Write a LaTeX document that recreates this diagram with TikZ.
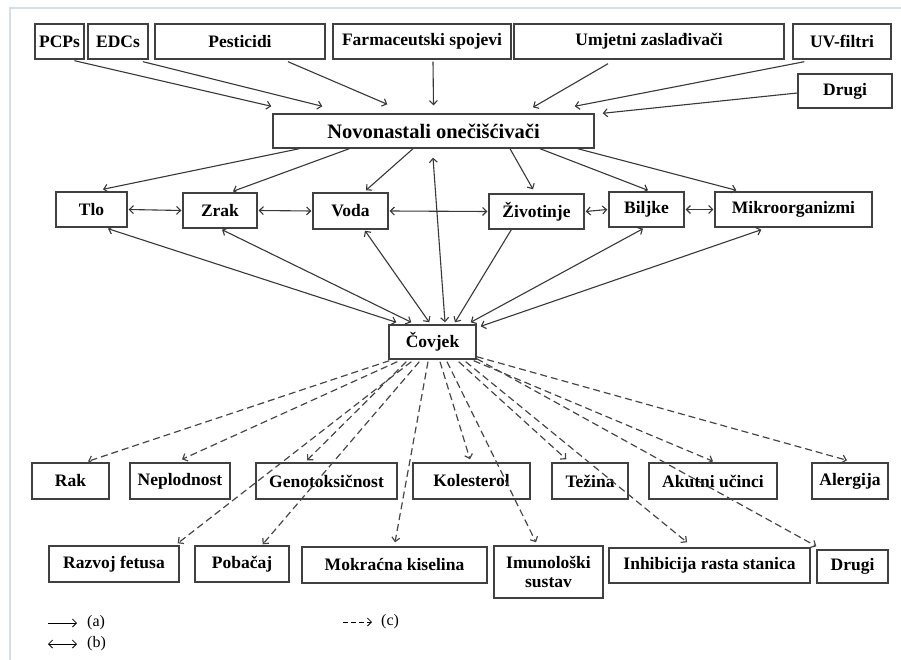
\documentclass[tikz,border=0pt]{standalone}
\usepackage{fontspec}
\setmainfont{Liberation Serif}
\usetikzlibrary{arrows.meta}
\begin{document}
\begin{tikzpicture}[x=1pt,y=-1pt,
  >={Straight Barb[length=4pt,width=8pt]},
  box/.style={draw=black!75, line width=1.4pt, fill=white, inner sep=0pt,
    font=\bfseries\fontsize{17.5}{19}\selectfont, align=center},
  arr/.style={draw=black!78, line width=1.1pt, ->},
  barr/.style={draw=black!78, line width=1.1pt, <->},
  dsh/.style={draw=black!72, line width=1.2pt, ->, dash pattern=on 7pt off 4pt},
  legtext/.style={font=\fontsize{16}{18}\selectfont, anchor=west, inner sep=0pt}]
\useasboundingbox (0,0) rectangle (901,660);
\fill[white] (0,0) rectangle (901,660);
\draw[color={rgb,255:red,214;green,221;blue,232}, line width=1.2pt] (10,660) -- (10,8) -- (901,8);

% top row
\node[box, minimum width=49pt, minimum height=35pt] (pcp) at (59.5,41.5) {PCPs};
\node[box, minimum width=60pt, minimum height=35pt] (edc) at (118,41.5) {EDCs};
\node[box, minimum width=170pt, minimum height=35pt] (pest) at (240,41.5) {Pesticidi};
\node[box, minimum width=178pt, minimum height=35pt] (farm) at (422,41.5) {Farmaceutski spojevi};
\node[box, minimum width=270pt, minimum height=35pt] (umj) at (649,41.5) {Umjetni zaslađivači};
\node[box, minimum width=98pt, minimum height=35pt] (uv) at (842,41.5) {UV-filtri};
\node[box, minimum width=94pt, minimum height=34pt] (drugia) at (845,91) {Drugi};
\node[box, minimum width=321pt, minimum height=34pt, font=\bfseries\fontsize{20.5}{22}\selectfont] (nov) at (433.5,131) {Novonastali onečišćivači};

% middle row
\node[box, minimum width=71pt, minimum height=35pt] (tlo) at (91.5,209.5) {Tlo};
\node[box, minimum width=74pt, minimum height=35pt] (zrak) at (220,210.5) {Zrak};
\node[box, minimum width=75pt, minimum height=36pt] (voda) at (350.5,211) {Voda};
\node[box, minimum width=95pt, minimum height=35pt] (ziv) at (536.5,211.5) {Životinje};
\node[box, minimum width=75pt, minimum height=35pt] (bilj) at (646.5,209.5) {Biljke};
\node[box, minimum width=157pt, minimum height=35pt] (mikro) at (793.5,209.5) {Mikroorganizmi};
\node[box, minimum width=87pt, minimum height=34pt] (cov) at (432.5,342) {Čovjek};

% bottom row 1
\node[box, minimum width=77pt, minimum height=36pt] (rak) at (70.5,481) {Rak};
\node[box, minimum width=100pt, minimum height=36pt] (nepl) at (180,481) {Neplodnost};
\node[box, minimum width=141pt, minimum height=36pt] (geno) at (326.5,481) {Genotoksičnost};
\node[box, minimum width=117pt, minimum height=36pt] (kol) at (471.5,481) {Kolesterol};
\node[box, minimum width=76pt, minimum height=36pt] (tez) at (590,481) {Težina};
\node[box, minimum width=128pt, minimum height=36pt] (akut) at (713,481) {Akutni učinci};
\node[box, minimum width=76pt, minimum height=36pt] (alerg) at (850,481) {Alergija};

% bottom row 2
\node[box, minimum width=130pt, minimum height=36pt] (razv) at (114,564) {Razvoj fetusa};
\node[box, minimum width=94pt, minimum height=36pt] (pob) at (242,564) {Pobačaj};
\node[box, minimum width=185pt, minimum height=36pt] (mokr) at (394.5,565) {Mokraćna kiselina};
\node[box, minimum width=109pt, minimum height=52pt] (imun) at (548.5,572) {Imunološki\\sustav};
\node[box, minimum width=201pt, minimum height=35pt] (inhib) at (709.5,565.5) {Inhibicija rasta stanica};
\node[box, minimum width=71pt, minimum height=33pt] (drugib) at (852.5,566.5) {Drugi};

% sources -> nov
\draw[arr] ([shift={(15,1)}]pcp.south) -- ([shift={(-1,-7)}]nov.north west);
\draw[arr] ([shift={(25,2)}]edc.south) -- ([shift={(50,-7)}]nov.north west);
\draw[arr] ([shift={(48,2)}]pest.south) -- ([shift={(115,-9)}]nov.north west);
\draw[arr] ([shift={(11,2)}]farm.south) -- ([shift={(0,-8)}]nov.north);
\draw[arr] ([shift={(-41,4)}]umj.south) -- ([shift={(99.5,-6)}]nov.north);
\draw[arr] ([shift={(12,2)}]uv.south west) -- ([shift={(-20,-7)}]nov.north east);
\draw[arr] ([shift={(0,2)}]drugia.west) -- ([shift={(8,0)}]nov.north east);

% nov -> compartments
\draw[arr] ([shift={(27,0)}]nov.south west) -- ([shift={(11.5,-2)}]tlo.north);
\draw[arr] ([shift={(77,0)}]nov.south west) -- ([shift={(13,-1)}]zrak.north);
\draw[arr] ([shift={(-20.5,0)}]nov.south) -- ([shift={(15.5,-2)}]voda.north);
\draw[arr] ([shift={(76.5,0)}]nov.south) -- ([shift={(-3.5,-4)}]ziv.north);
\draw[arr] ([shift={(106.5,0)}]nov.south) -- ([shift={(1.5,-1)}]bilj.north);
\draw[arr] ([shift={(-17,0)}]nov.south east) -- ([shift={(22,-1)}]mikro.north west);
\draw[barr] ([shift={(12.5,-2)}]cov.north) -- ([shift={(-0.5,9)}]nov.south);

% horizontal links
\draw[barr] ([xshift=1pt]tlo.east) -- ([xshift=-1pt]zrak.west);
\draw[barr] ([xshift=1pt]zrak.east) -- ([xshift=-1pt]voda.west);
\draw[barr] ([xshift=1pt]voda.east) -- ([xshift=-1pt]ziv.west);
\draw[barr] ([xshift=1pt]ziv.east) -- ([xshift=-1pt]bilj.west);
\draw[barr] ([xshift=1pt]bilj.east) -- ([xshift=-1pt]mikro.west);

% compartments -> human
\draw[barr] ([shift={(16.5,1)}]tlo.south) -- ([shift={(8,-2)}]cov.north west);
\draw[barr] ([shift={(2,1)}]zrak.south) -- ([shift={(23,-2)}]cov.north west);
\draw[barr] ([shift={(14.5,1)}]voda.south) -- ([shift={(41,-2)}]cov.north west);
\draw[arr] ([shift={(23,0)}]ziv.south west) -- ([shift={(22.5,-2)}]cov.north);
\draw[barr] ([shift={(-3.5,1)}]bilj.south) -- ([shift={(-6,-2)}]cov.north east);
\draw[barr] ([shift={(47,2)}]mikro.south west) -- ([shift={(4,2)}]cov.north east);

% human -> effects
\draw[dsh] ([shift={(1,1)}]cov.south west) -- ([shift={(17.5,-1)}]rak.north);
\draw[dsh] ([shift={(9,2)}]cov.south west) -- ([shift={(2,-3)}]nepl.north);
\draw[dsh] ([shift={(18,2)}]cov.south west) -- ([shift={(-19.5,-2)}]geno.north);
\draw[dsh] ([shift={(23,2)}]cov.south west) -- ([shift={(-2,-2)}]razv.north east);
\draw[dsh] ([shift={(31,2)}]cov.south west) -- ([shift={(-27,-1)}]pob.north east);
\draw[dsh] ([shift={(-4.5,2)}]cov.south) -- ([shift={(0.5,-4)}]mokr.north);
\draw[dsh] ([shift={(7.5,2)}]cov.south) -- ([shift={(-1.5,-3)}]kol.north);
\draw[dsh] ([shift={(14.5,2)}]cov.south) -- ([shift={(-12.5,-3)}]imun.north);
\draw[dsh] ([shift={(-18,2)}]cov.south east) -- ([shift={(15,-3)}]tez.north west);
\draw[dsh] ([shift={(-11,2)}]cov.south east) -- ([shift={(-22.5,-5)}]inhib.north);
\draw[dsh] ([shift={(-3,1)}]cov.south east) -- ([shift={(0,-1)}]akut.north);
\draw[dsh] ([shift={(0,-1)}]cov.south east) -- ([shift={(0,-3)}]drugib.north west);
\draw[dsh] ([shift={(0,-3)}]cov.south east) -- ([shift={(-3,-2)}]alerg.north);

% legend
\coordinate (la1) at (48,623); \coordinate (la2) at (77,623);
\coordinate (lb1) at (48,644); \coordinate (lb2) at (77,644);
\coordinate (lc1) at (343,622); \coordinate (lc2) at (372,622);
\draw[line width=0.8pt, ->] (la1) -- (la2);
\draw[line width=0.8pt, <->] (lb1) -- (lb2);
\draw[line width=0.8pt, ->, dash pattern=on 5pt off 3pt] (lc1) -- (lc2);
\node[legtext] (lta) at (87,623) {(a)};
\node[legtext] (ltb) at (87,644) {(b)};
\node[legtext] (ltc) at (381,622) {(c)};
\end{tikzpicture}
\end{document}
